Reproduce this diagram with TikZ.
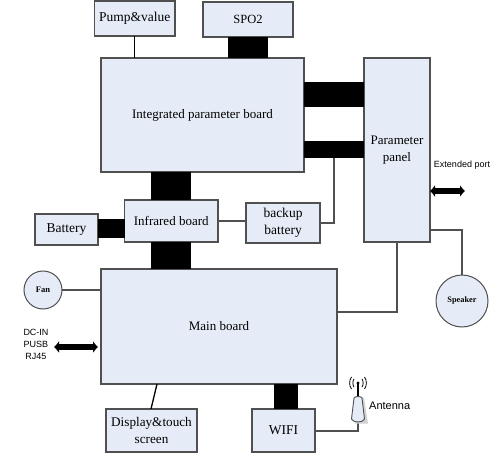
\documentclass[tikz,border=0pt]{standalone}
\usepackage{fontspec}
\setmainfont{Liberation Serif}
\setsansfont{Liberation Sans}
\usetikzlibrary{arrows.meta,positioning,calc}
\definecolor{boxfill}{HTML}{E6ECF7}
\definecolor{edge}{HTML}{505050}
\newcommand{\pxbox}[6]{\node[block,minimum width=#4-#3,minimum height=#6-#5,align=center,font=\fontsize{#2}{17}\selectfont] (#1) at ({(#3+#4)/2},{(#5+#6)/2})}
\tikzset{
  x=1pt,y=-1pt,
  block/.style={draw=edge,fill=boxfill,line width=1.1pt,inner sep=0pt,outer sep=0pt},
  disc/.style={draw=edge,fill=boxfill,line width=1pt,circle,inner sep=0pt,outer sep=0pt},
  thin link/.style={draw=edge,line width=1.1pt},
  bus/.style={draw=black,line width=#1},
  port/.style={draw=black,line width=6.5pt,{Latex[length=5pt,width=12.5pt]}-{Latex[length=5pt,width=12.5pt]},shorten <=0pt,shorten >=0pt},
  small/.style={font=\sffamily\fontsize{9}{12}\selectfont,align=center,inner sep=0pt},
}
\begin{document}
\begin{tikzpicture}
\useasboundingbox (0,0) rectangle (503,454);
\fill[white] (0,0) rectangle (503,454);
\pxbox{pump}{13.5}{94.5}{175}{1}{36} {Pump\&value};
\pxbox{spo}{12.5}{203}{293}{2}{37} {SPO2};
\pxbox{int}{13}{101}{304}{58}{172} {Integrated parameter board};
\pxbox{panel}{13}{364}{430}{58}{242} {Parameter\\panel};
\pxbox{infra}{13}{124.5}{218}{200}{242} {Infrared board};
\pxbox{batt}{13.5}{35}{98}{214}{245} {Battery};
\pxbox{backup}{13.5}{246}{320}{203}{243} {backup\\battery};
\pxbox{main}{13}{101}{337}{269}{384} {Main board};
\pxbox{disp}{13.2}{106}{197}{409}{452} {Display\&touch\\screen};
\pxbox{wifi}{13.5}{252}{315}{409}{452} {WIFI};
\node[disc,minimum size=38pt,font=\bfseries\fontsize{8.5}{9}\selectfont] (fan) at (43,290) {Fan};
\node[disc,minimum size=52pt,font=\bfseries\fontsize{8.3}{9}\selectfont] (spk) at (462,301) {Speaker};
% anchors for the free ends
\coordinate (pumpin) at (pump.south |- int.north);
\coordinate (spoin) at (spo.south |- int.north);
\coordinate (barA) at (int.east |- 0,94.5);
\coordinate (barB) at (int.east |- 0,149.5);
\coordinate (tap) at (334,158);
\coordinate (spkcorner) at (462,230);
\coordinate (mainout) at (main.east |- 0,312);
\coordinate (panelin) at (397,242);
\coordinate (wifibus) at (286,384);
\coordinate (antbase) at (358,422);
\coordinate (anttop) at (358,383);
% black buses
\draw[bus=40pt] (int.south -| infra.north) -- (infra.north);
\draw[bus=40pt] (infra.south) -- (infra.south |- main.north);
\draw[bus=19pt] (batt.east |- 0,228.5) -- (infra.west |- 0,228.5);
\draw[bus=40pt] (spo.south) -- (spoin);
\draw[bus=25pt] (barA) -- (barA -| panel.west);
\draw[bus=17pt] (barB) -- (barB -| panel.west);
\draw[bus=24pt] (wifibus) -- (wifibus |- wifi.north);
% thin links
\draw[draw=black,line width=1.3pt] (pump.south) -- (pumpin);
\draw[thin link] (fan.east) -- (fan.east -| main.west);
\draw[thin link] (infra.east) -- (backup.west |- infra.east);
\draw[thin link] (backup.east) -- (tap |- backup.east) -- (tap);
\draw[thin link] (mainout) -- (mainout -| panelin) -- (panelin);
\draw[thin link] (spkcorner -| panel.east) -- (spkcorner) -- (spk.north);
\draw[draw=black,line width=1.3pt] (157,384) -- (151,409);
\draw[thin link] (wifi.east |- 0,431) -- (358,431) -- (antbase);
% ports
\coordinate (extA) at (430,191);
\coordinate (extB) at (465,191);
\coordinate (dcA) at (54,347);
\coordinate (dcB) at (98,347);
\draw[port] (extA) -- (extB);
\draw[port] (dcA) -- (dcB);
\node[small] (extlabel) at (462,165) {Extended port};
\node[small] (dclabel) at (36,344) {DC-IN\\PUSB\\RJ45};
% antenna
\fill[gray!35] (355,423.5) -- (368,423.5) -- (364,398) -- (358,396) -- cycle;
\draw[black,line width=1.1pt] (antbase) -- (anttop);
\path[draw=edge,fill=boxfill,line width=.9pt] (354,398) .. controls (355,396) and (361,396) .. (362,398) -- (364.5,419) .. controls (363,423) and (353,423) .. (351.5,419) -- cycle;
\draw[black,line width=.8pt] (354,379) .. controls (352.5,381) and (352.5,385) .. (354,387);
\draw[black,line width=.8pt] (362,379) .. controls (363.5,381) and (363.5,385) .. (362,387);
\draw[black,line width=.8pt] (351.5,377) .. controls (349,380) and (349,386) .. (351.5,389);
\draw[black,line width=.8pt] (364.5,377) .. controls (367,380) and (367,386) .. (364.5,389);
\fill[black] (anttop) circle (1.6pt);
\node[font=\sffamily\fontsize{11}{12}\selectfont,anchor=west,inner sep=0pt] (antlabel) at (369,406) {Antenna};
\end{tikzpicture}
\end{document}
